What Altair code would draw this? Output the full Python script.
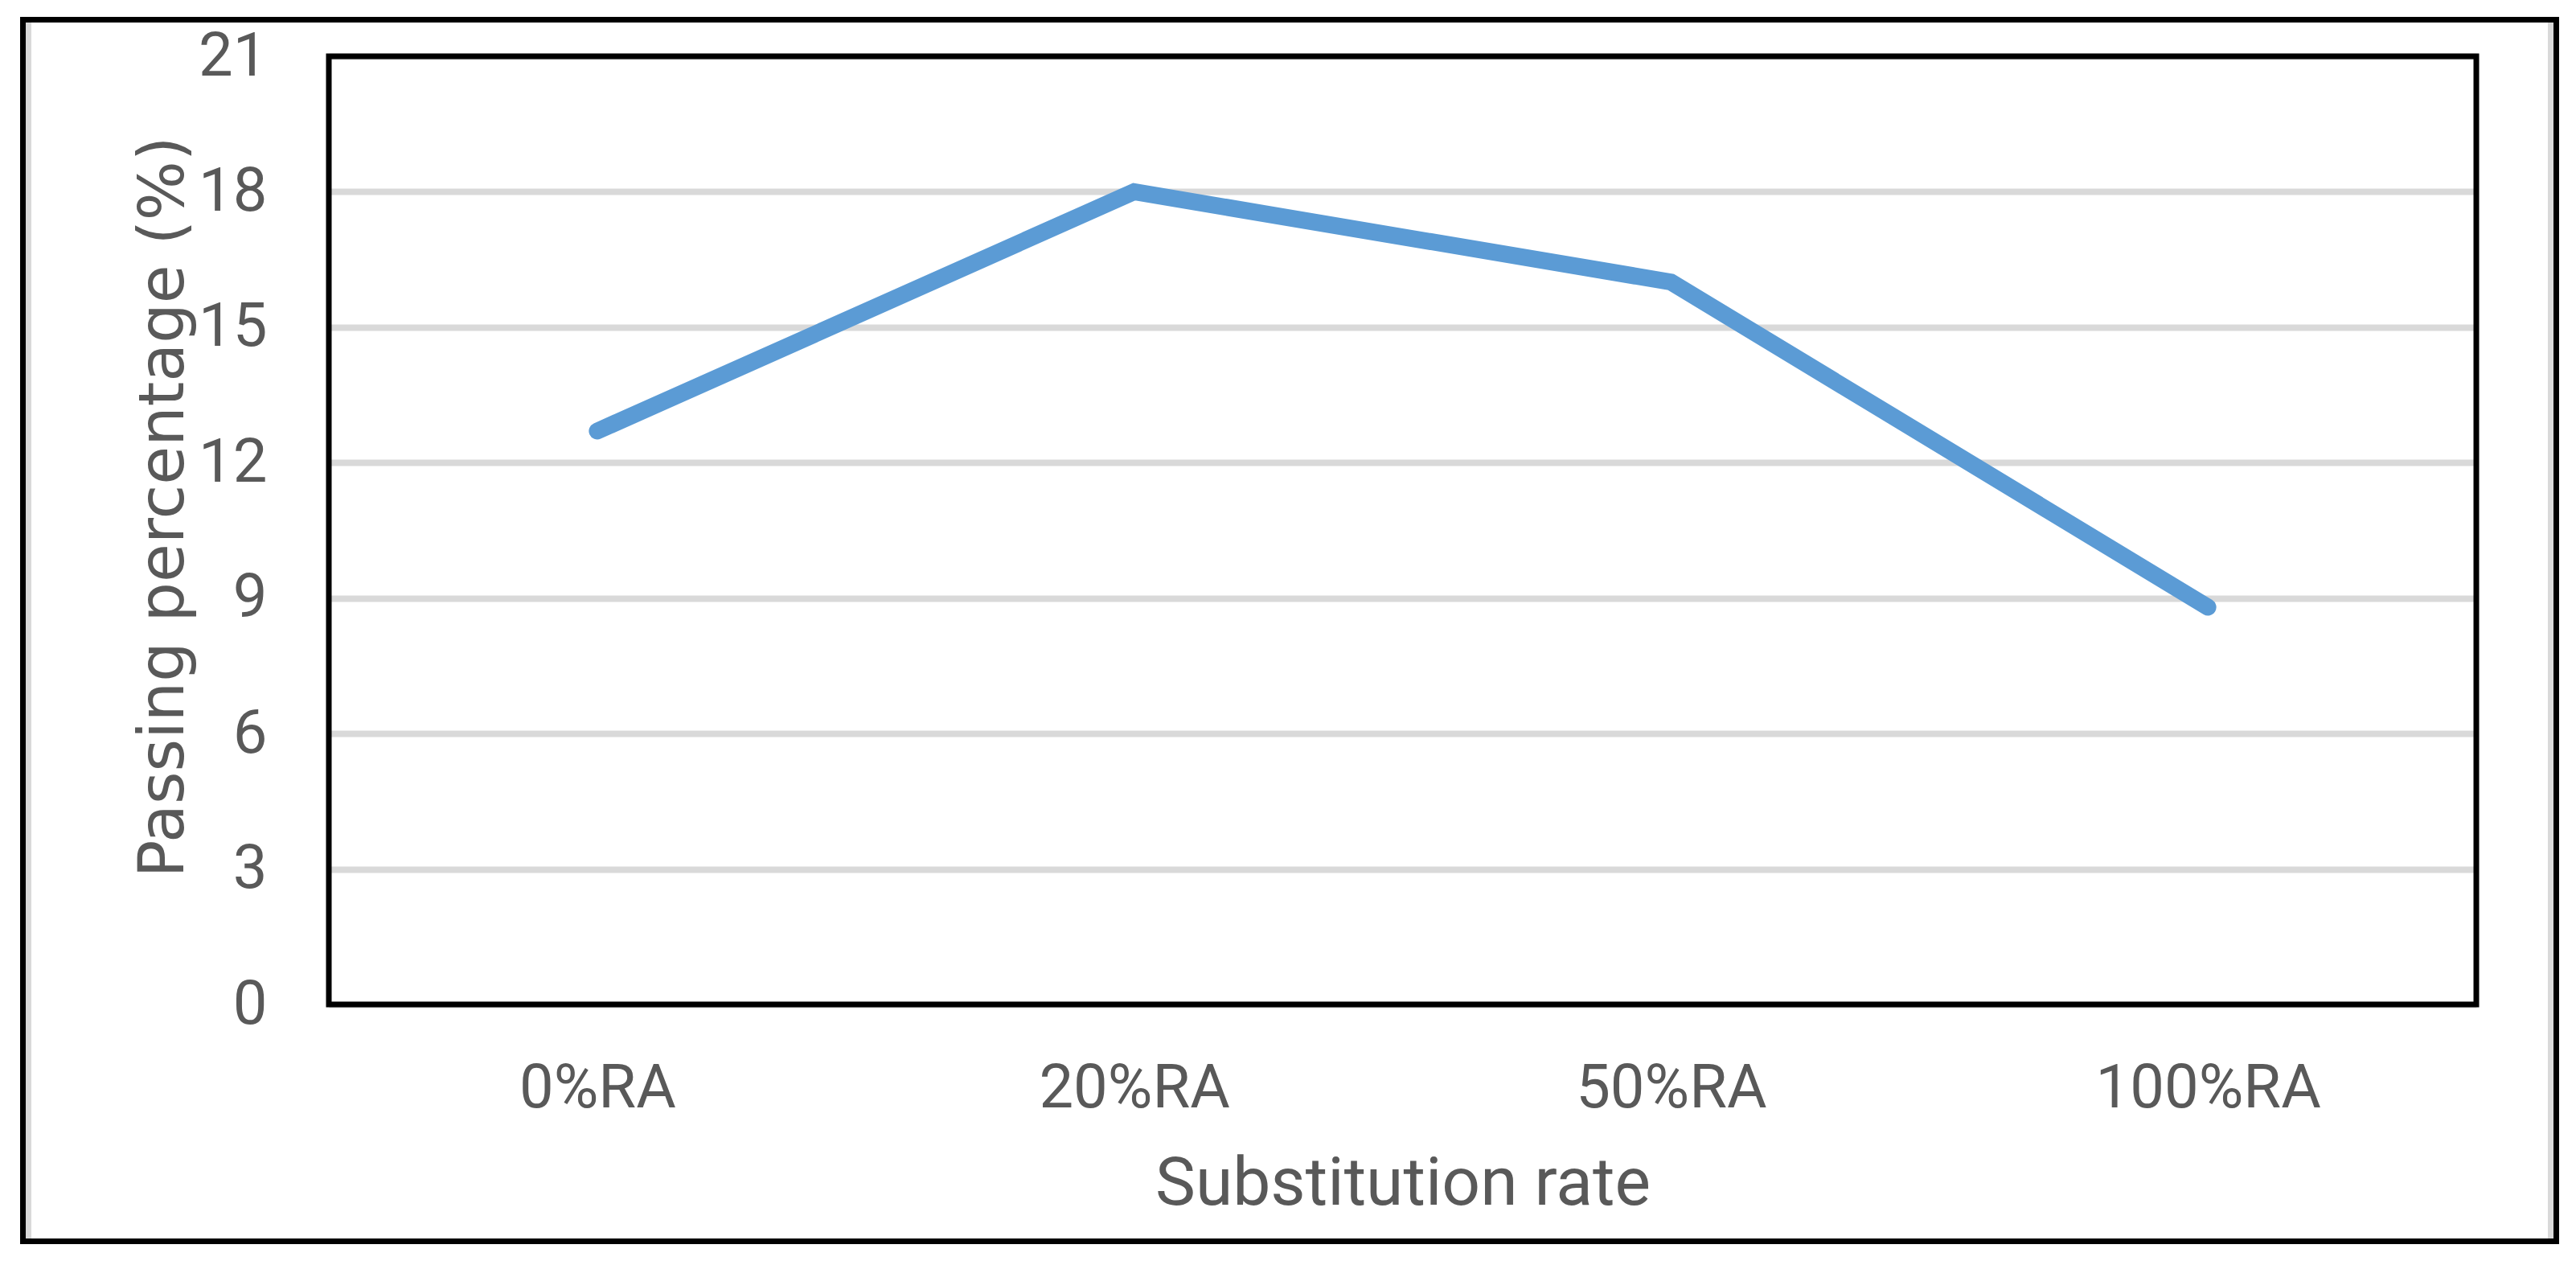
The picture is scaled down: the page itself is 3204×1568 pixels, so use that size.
import altair as alt
import pandas as pd

categories = ["0%RA", "20%RA", "50%RA", "100%RA"]
passing = [12.7, 18.0, 16.0, 8.8]
y_ticks = [0, 3, 6, 9, 12, 15, 18, 21]

df = pd.DataFrame({"cat": categories, "val": passing})

W, H = 2671, 1179
FONT = "Roboto"
GRAY = "#595959"

base = alt.Chart(df)

line = base.mark_line(
    color="#5B9BD5", strokeWidth=21, strokeCap="round", strokeJoin="miter"
).encode(
    x=alt.X(
        "cat:N",
        sort=categories,
        scale=alt.Scale(type="point", padding=0.5),
        axis=alt.Axis(
            title="Substitution rate",
            labelAngle=0,
            labelPadding=104,
            labelBaseline="middle",
            labelLimit=0,
            titleY=223,
            titleBaseline="middle",
            titleFontSize=84,
        ),
    ),
    y=alt.Y(
        "val:Q",
        scale=alt.Scale(domain=[0, 21], nice=False),
        axis=alt.Axis(
            title="Passing percentage (%)",
            values=y_ticks,
            labelPadding=77,
            labelLimit=0,
            grid=True,
            gridColor="#D9D9D9",
            gridWidth=8,
            titleAngle=270,
            titleX=-205,
            titleY=560,
            titleBaseline="middle",
            titleAlign="center",
            titleFont="DejaVu Sans",
            titleFontSize=78,
        ),
    ),
)

one = alt.Chart(pd.DataFrame({"a": [0]}))

plot_border = one.mark_rect(fill=None, stroke="black", strokeWidth=7).encode(
    x=alt.value(0), x2=alt.value(W), y=alt.value(0), y2=alt.value(H)
)

outer_shadow_l = one.mark_rule(color="#D9D9D9", strokeWidth=7).encode(
    x=alt.value(-373.5), y=alt.value(-42), y2=alt.value(1470)
)
outer_shadow_r = one.mark_rule(color="#D9D9D9", strokeWidth=7).encode(
    x=alt.value(2763.5), y=alt.value(-42), y2=alt.value(1470)
)
outer_frame = one.mark_rect(fill=None, stroke="black", strokeWidth=7).encode(
    x=alt.value(-380.5), x2=alt.value(2770.5), y=alt.value(-45.5), y2=alt.value(1473.5)
)

chart = alt.layer(
    outer_shadow_l, outer_shadow_r, outer_frame, line, plot_border
).properties(
    width=W,
    height=H,
    background="white",
    autosize=alt.AutoSizeParams(type="none"),
    padding={"left": 401, "top": 62, "right": 116, "bottom": 311},
).configure_view(
    stroke=None
).configure_axis(
    domain=False,
    ticks=False,
    tickSize=0,
    labelFont=FONT,
    labelFontSize=76,
    labelColor=GRAY,
    titleFont=FONT,
    titleFontSize=82,
    titleFontWeight="normal",
    titleColor=GRAY,
)

chart.save("out.html", embed_options={"renderer": "svg", "actions": False})
